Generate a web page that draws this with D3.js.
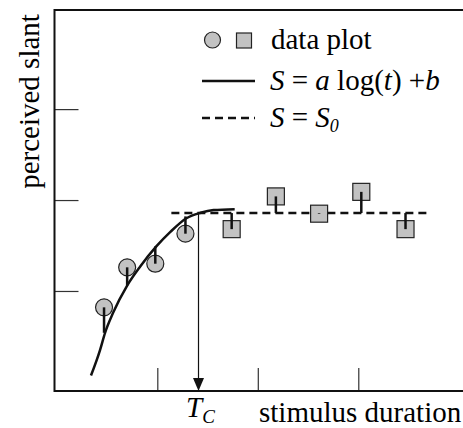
<!DOCTYPE html>
<html>
<head>
<meta charset="utf-8">
<script src="https://cdn.jsdelivr.net/npm/d3@7"></script>
<style>
  body { margin: 0; background: #fff; }
  svg { display: block; font-family: "Liberation Serif", "Times New Roman", serif; }
</style>
</head>
<body>
<div id="chart"></div>
<script>
// measured values, in the chart's own units
const circleX = [0.47, 0.70, 0.98, 1.28];
const circleY = [0.82, 1.26, 1.30, 1.63];
const circleFit = [0.54, 1.06, 1.49, 1.82]; // where each stem meets the fit curve

const squareX = [1.74, 2.18, 2.61, 3.03, 3.47];
const squareY = [1.68, 2.04, 1.85, 2.09, 1.68];

const curveX = [0.34, 0.43, 0.48, 0.56, 0.70, 0.83, 0.99, 1.13, 1.29, 1.43, 1.56, 1.77];
const curveY = [0.07, 0.35, 0.54, 0.76, 1.06, 1.27, 1.49, 1.65, 1.80, 1.86, 1.89, 1.90];

const S0 = 1.857;
const S0Range = [1.14, 3.70];
const Tc = 1.41;

const xTicks = [1, 2, 3];
const yTicks = [1, 2, 3];

const W = 463, H = 428;
const x = d3.scaleLinear().domain([-0.023, 4.042]).range([54.5, 463]);
const y = d3.scaleLinear().domain([-0.1, 4.09]).range([391, 10]);

const svg = d3.select("#chart").append("svg")
  .attr("width", W)
  .attr("height", H);

// ticks (inward)
const yAxis = svg.append("g")
  .attr("transform", `translate(${x.range()[0]},0)`)
  .call(d3.axisLeft(y).tickValues(yTicks).tickSize(-24).tickFormat(""));
const xAxis = svg.append("g")
  .attr("transform", `translate(0,${y.range()[0]})`)
  .call(d3.axisBottom(x).tickValues(xTicks).tickSize(-23).tickFormat(""));
[yAxis, xAxis].forEach(a => {
  a.select(".domain").remove();
  a.selectAll(".tick line").attr("stroke", "#333").attr("stroke-width", 1.2);
});

// frame: left, top and bottom (right side runs off the picture)
const x0 = x.range()[0], y0 = y.range()[0], y1 = y.range()[1];
svg.append("path")
  .attr("d", `M${W},${y1}H${x0}V${y0}H${W}`)
  .attr("fill", "none")
  .attr("stroke", "#111")
  .attr("stroke-width", 2);

// fit curve
const line = d3.line().x(d => x(d[0])).y(d => y(d[1])).curve(d3.curveMonotoneX);
svg.append("path")
  .datum(d3.zip(curveX, curveY))
  .attr("d", line)
  .attr("fill", "none")
  .attr("stroke", "#111")
  .attr("stroke-width", 2.5);

// S = S0 dashed
svg.append("line")
  .attr("x1", x(S0Range[0])).attr("x2", x(S0Range[1]))
  .attr("y1", y(S0)).attr("y2", y(S0))
  .attr("stroke", "#111")
  .attr("stroke-width", 2.5)
  .attr("stroke-dasharray", "8,5");

// Tc arrow
const tx = x(Tc);
svg.append("line")
  .attr("x1", tx).attr("x2", tx)
  .attr("y1", y(S0)).attr("y2", y0 - 10)
  .attr("stroke", "#111")
  .attr("stroke-width", 1.2);
svg.append("path")
  .attr("d", `M${tx - 5.5},${y0 - 13}L${tx + 5.5},${y0 - 13}L${tx},${y0}Z`)
  .attr("fill", "#111");

const markFill = "#c2c2c2";

// circles
svg.selectAll(".circ").data(d3.zip(circleX, circleY, circleFit)).join("circle")
  .attr("class", "circ")
  .attr("cx", d => x(d[0]))
  .attr("cy", d => y(d[1]))
  .attr("r", 8.5)
  .attr("fill", markFill)
  .attr("stroke", "#222")
  .attr("stroke-width", 1.2);
svg.selectAll(".cstem").data(d3.zip(circleX, circleY, circleFit)).join("line")
  .attr("class", "cstem")
  .attr("x1", d => x(d[0])).attr("x2", d => x(d[0]))
  .attr("y1", d => y(d[1])).attr("y2", d => y(d[2]))
  .attr("stroke", "#111")
  .attr("stroke-width", 2.5);

// squares
const SQ = 17;
svg.selectAll(".sq").data(d3.zip(squareX, squareY)).join("rect")
  .attr("class", "sq")
  .attr("x", d => x(d[0]) - SQ / 2)
  .attr("y", d => y(d[1]) - SQ / 2)
  .attr("width", SQ)
  .attr("height", SQ)
  .attr("fill", markFill)
  .attr("stroke", "#222")
  .attr("stroke-width", 1.2);
svg.selectAll(".sstem").data(d3.zip(squareX, squareY)).join("line")
  .attr("class", "sstem")
  .attr("x1", d => x(d[0])).attr("x2", d => x(d[0]))
  .attr("y1", d => y(d[1])).attr("y2", y(S0))
  .attr("stroke", "#111")
  .attr("stroke-width", 2.5);

// legend
const FS = 29;
const leg = svg.append("g");
leg.append("circle").attr("cx", 212.5).attr("cy", 40).attr("r", 8)
  .attr("fill", markFill).attr("stroke", "#222").attr("stroke-width", 1.2);
leg.append("rect").attr("x", 236.5).attr("y", 33).attr("width", 15).attr("height", 15)
  .attr("fill", markFill).attr("stroke", "#222").attr("stroke-width", 1.2);
leg.append("text").attr("x", 271).attr("y", 49).attr("font-size", FS).text("data plot");

leg.append("line").attr("x1", 202).attr("x2", 255).attr("y1", 81).attr("y2", 81)
  .attr("stroke", "#111").attr("stroke-width", 2.5);
const t2 = leg.append("text").attr("x", 270).attr("y", 90).attr("font-size", FS);
t2.append("tspan").attr("font-style", "italic").text("S");
t2.append("tspan").text(" = ");
t2.append("tspan").attr("font-style", "italic").text("a");
t2.append("tspan").text(" log(");
t2.append("tspan").attr("font-style", "italic").text("t");
t2.append("tspan").text(") +");
t2.append("tspan").attr("font-style", "italic").text("b");

leg.append("line").attr("x1", 202).attr("x2", 255).attr("y1", 118).attr("y2", 118)
  .attr("stroke", "#111").attr("stroke-width", 2.5).attr("stroke-dasharray", "8,5");
const t3 = leg.append("text").attr("x", 270).attr("y", 127).attr("font-size", FS);
t3.append("tspan").attr("font-style", "italic").text("S");
t3.append("tspan").text(" = ");
t3.append("tspan").attr("font-style", "italic").text("S");
t3.append("tspan").attr("font-style", "italic").attr("font-size", 18).attr("dy", 5).text("0");

// axis labels
svg.append("text")
  .attr("transform", "translate(39,101.5) rotate(-90)")
  .attr("text-anchor", "middle")
  .attr("font-size", FS)
  .text("perceived slant");

svg.append("text")
  .attr("x", 259)
  .attr("y", 422)
  .attr("font-size", FS)
  .text("stimulus duration");

const tc = svg.append("text").attr("x", 186).attr("y", 417).attr("font-size", FS);
tc.append("tspan").attr("font-style", "italic").text("T");
tc.append("tspan").attr("font-style", "italic").attr("font-size", 19).attr("dy", 6).text("C");
</script>
</body>
</html>
